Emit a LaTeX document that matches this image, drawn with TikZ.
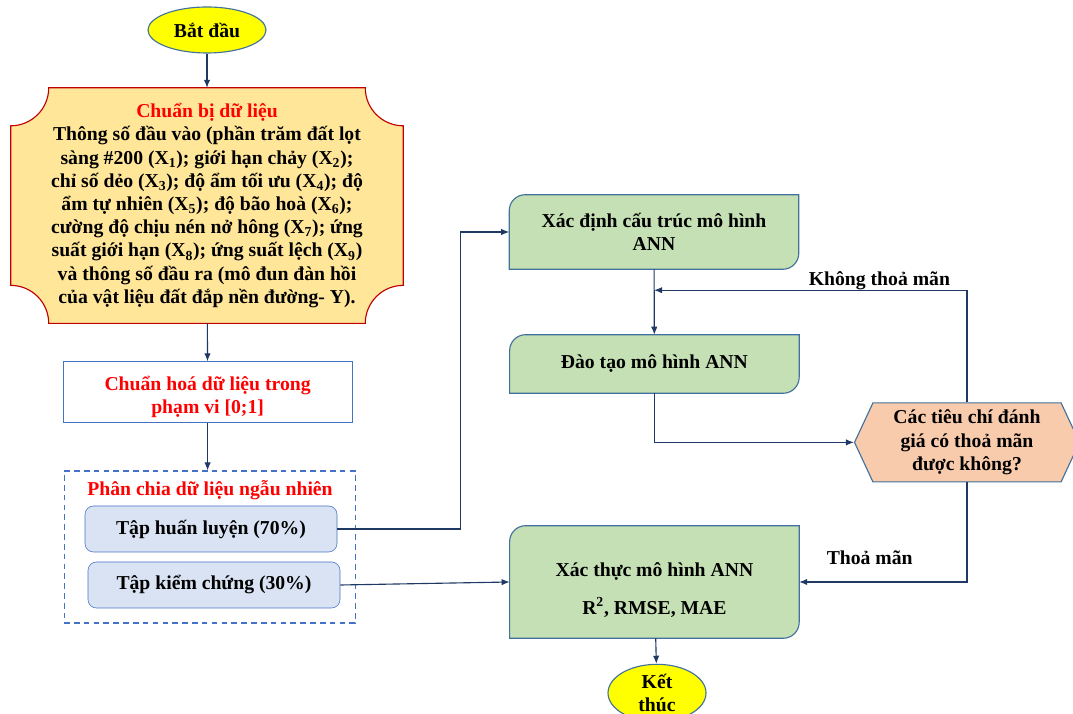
\documentclass[tikz,border=0pt]{standalone}
\usepackage{fontspec}
\setmainfont{Liberation Serif}
\usetikzlibrary{arrows.meta, shapes.geometric, shapes.symbols, positioning, calc, backgrounds}
\definecolor{startyellow}{RGB}{255,255,0}
\definecolor{lightyellow}{RGB}{255,230,153}
\definecolor{darkred}{RGB}{192,0,0}
\definecolor{navy}{RGB}{31,56,100}
\definecolor{midblue}{RGB}{68,114,196}
\definecolor{edgeblue}{RGB}{65,113,156}
\definecolor{paleblue}{RGB}{218,227,243}
\definecolor{lightgreen}{RGB}{197,224,180}
\definecolor{lightpeach}{RGB}{248,203,173}

\begin{document}
\begin{tikzpicture}[
    font=\fontsize{14}{16.5}\selectfont\bfseries,
    terminal/.style={ellipse, draw=edgeblue, thick, fill=startyellow,
                minimum width=2.95cm, minimum height=1.15cm, align=center, inner sep=1pt},
    plaque/.style={minimum width=9.8cm, minimum height=5.875cm, align=center},
    procbox/.style={rectangle, draw=midblue, thick, fill=white, text=red,
                minimum width=7.225cm, minimum height=1.525cm, align=center},
    setbox/.style={rectangle, rounded corners=6pt, draw=midblue, fill=paleblue,
                minimum width=6.3cm, minimum height=1.15cm},
    annbox/.style={minimum width=7.225cm, align=center},
    decision/.style={signal, signal to=west and east, signal pointer angle=130,
                draw=edgeblue, thick, fill=lightpeach, minimum width=5.625cm,
                minimum height=1.975cm, align=center, inner sep=1pt},
    arrow/.style={-{Latex[length=2mm,width=1.6mm]}, thick, color=navy},
    ann/.style={draw=edgeblue, thick, fill=lightgreen},
    lbl/.style={text=black}
]
\useasboundingbox (0,0) rectangle (26.825,17.85);
\node[terminal] (start) at (5.175,17.1) {Bắt đầu};
\node[plaque] (prep) at (5.175,12.71) {\textcolor{red}{Chuẩn bị dữ liệu}\\
    Thông số đầu vào (phần trăm đất lọt\\
    sàng \#200 (X\textsubscript{1}); giới hạn chảy (X\textsubscript{2});\\
    chỉ số dẻo (X\textsubscript{3}); độ ẩm tối ưu (X\textsubscript{4}); độ\\
    ẩm tự nhiên (X\textsubscript{5}); độ bão hoà (X\textsubscript{6});\\
    cường độ chịu nén nở hông (X\textsubscript{7}); ứng\\
    suất giới hạn (X\textsubscript{8}); ứng suất lệch (X\textsubscript{9})\\
    và thông số đầu ra (mô đun đàn hồi\\
    của vật liệu đất đắp nền đường- Y).};
\node[procbox] (norm) at (5.19,8.04) {\rule{0pt}{0.6cm}Chuẩn hoá dữ liệu trong\\phạm vi [0;1]};
\node[draw=midblue, thick, dash pattern=on 4pt off 3pt, minimum width=7.275cm,
      minimum height=3.8cm] (split) at (5.24,4.175) {};
\node[text=red] (splittitle) at (5.25,5.6) {Phân chia dữ liệu ngẫu nhiên};
\node[setbox] (train) at (5.275,4.625) {Tập huấn luyện (70\%)};
\node[setbox] (test) at (5.35,3.225) {Tập kiểm chứng (30\%)};
\node[annbox, minimum height=1.85cm] (struct) at (16.35,12.05) {Xác định cấu trúc mô hình\\ANN};
\node[annbox, minimum height=1.45cm] (trainm) at (16.36,8.75) {Đào tạo mô hình ANN};
\node[decision] (dec) at (24.175,6.79) {Các tiêu chí đánh\\giá có thoả mãn\\được không?};
\node[annbox, minimum height=2.8cm] (valid) at (16.36,3.3) {\rule{0pt}{0.75cm}Xác thực mô hình ANN\\[0.35cm]R\textsuperscript{2}, RMSE, MAE};
\node[terminal, minimum width=2.45cm, minimum height=1.25cm] (end) at (16.425,0.525) {Kết\\thúc};

\begin{scope}[on background layer]
\filldraw[draw=darkred, fill=lightyellow, thick]
    ([yshift=-0.95cm]prep.north west) arc[start angle=-90, end angle=0, radius=0.95cm]
    -- ([xshift=-0.95cm]prep.north east) arc[start angle=180, end angle=270, radius=0.95cm]
    -- ([yshift=0.95cm]prep.south east) arc[start angle=90, end angle=180, radius=0.95cm]
    -- ([xshift=0.95cm]prep.south west) arc[start angle=0, end angle=90, radius=0.95cm]
    -- cycle;
\foreach \n in {struct, trainm, valid}
  \filldraw[ann] (\n.south west) -- ([yshift=-0.4cm]\n.north west)
    arc[start angle=180, end angle=90, radius=0.4cm] -- (\n.north east)
    -- ([yshift=0.4cm]\n.south east) arc[start angle=0, end angle=-90, radius=0.4cm]
    -- cycle;
\end{scope}

\draw[arrow] (start) -- (prep);
\draw[arrow] (prep) -- (norm);
\draw[arrow] (norm.south) -- (norm.south |- split.north);
\draw[arrow] (train.east) -| ([xshift=-1.225cm]struct.west) -- (struct.west);
\draw[arrow] (test.east) -- (valid.west);
\draw[arrow] (struct) -- (trainm);
\draw[arrow] (trainm.south) |- (dec.west);
\draw[arrow] (dec.north) |- ($(struct.south)!0.32!(trainm.north)$)
    node[lbl, pos=0.64, above, inner sep=0pt] {Không thoả mãn};
\draw[arrow] (dec.south) |- (valid.east)
    node[lbl, pos=0.79, above=0.3cm] {Thoả mãn};
\draw[arrow] (valid) -- (end);
\end{tikzpicture}
\end{document}
